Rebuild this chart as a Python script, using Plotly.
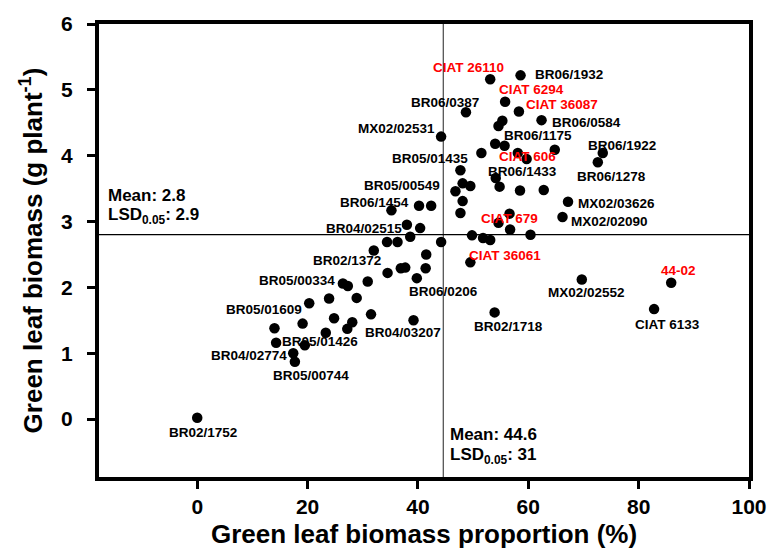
import plotly.graph_objects as go

# Green leaf biomass proportion (%) and green leaf biomass (g per plant) per genotype
prop = [0.0, 53.1, 58.6, 55.8, 48.7, 58.3, 62.4, 55.3, 54.6, 44.2,
        54.0, 55.7, 64.8, 73.5, 72.6, 51.5, 58.1, 59.7, 47.7, 54.1,
        48.1, 49.5, 46.8, 54.8, 58.5, 62.8, 67.2, 48.1, 47.7, 56.6,
        66.2, 54.6, 56.7, 60.4, 49.8, 51.8, 53.1, 44.2, 49.5, 69.7,
        85.9, 53.9, 82.8, 40.2, 42.4, 35.2, 38.0, 40.4, 38.6, 34.4,
        36.3, 32.0, 41.5, 36.9, 37.7, 41.4, 34.5, 39.8, 26.4, 27.3,
        30.9, 23.9, 28.9, 20.3, 24.8, 28.1, 31.5, 39.2, 19.1, 14.0,
        27.2, 23.3, 19.5, 14.3, 17.4, 17.7]
biomass = [0.02, 5.16, 5.22, 4.82, 4.66, 4.67, 4.54, 4.53, 4.45, 4.29,
           4.18, 4.15, 4.09, 4.04, 3.90, 4.04, 4.04, 3.95, 3.78, 3.66,
           3.58, 3.54, 3.46, 3.53, 3.47, 3.48, 3.30, 3.31, 3.13, 3.12,
           3.07, 2.98, 2.88, 2.80, 2.79, 2.75, 2.72, 2.69, 2.38, 2.12,
           2.07, 1.62, 1.67, 3.24, 3.24, 3.17, 2.95, 2.90, 2.77, 2.69,
           2.69, 2.56, 2.50, 2.29, 2.30, 2.29, 2.22, 2.14, 2.06, 2.02,
           2.09, 1.83, 1.84, 1.76, 1.53, 1.47, 1.59, 1.50, 1.45, 1.38,
           1.37, 1.31, 1.12, 1.16, 1.00, 0.87]

# Genotype names shown on the chart; red ones are the CIAT checks
names = ["CIAT 26110", "BR06/1932", "CIAT 6294", "BR06/0387", "CIAT 36087",
         "BR06/0584", "MX02/02531", "BR06/1175", "BR06/1922", "CIAT 606",
         "BR05/01435", "BR06/1433", "BR06/1278", "BR05/00549", "BR06/1454",
         "MX02/03626", "CIAT 679", "MX02/02090", "BR04/02515", "BR02/1372",
         "CIAT 36061", "BR05/00334", "BR06/0206", "MX02/02552", "44-02",
         "BR05/01609", "BR02/1718", "CIAT 6133", "BR04/03207", "BR05/01426",
         "BR04/02774", "BR05/00744", "BR02/1752"]
red_names = {"CIAT 26110", "CIAT 6294", "CIAT 36087", "CIAT 606", "CIAT 679",
             "CIAT 36061", "44-02"}

# Overall means and LSD values
mean_prop, lsd_prop = 44.6, 31
mean_bio, lsd_bio = 2.8, 2.9

# Where each name label sits (label centre, axis units)
label_xy = {
    "CIAT 26110": (49.2, 5.34), "BR06/1932": (67.3, 5.24), "CIAT 6294": (60.6, 5.00),
    "BR06/0387": (44.9, 4.81), "CIAT 36087": (66.1, 4.78), "BR06/0584": (70.5, 4.50),
    "MX02/02531": (36.1, 4.41), "BR06/1175": (61.8, 4.30), "BR06/1922": (77.0, 4.16),
    "CIAT 606": (59.8, 3.99), "BR05/01435": (42.1, 3.96), "BR06/1433": (59.0, 3.76),
    "BR06/1278": (75.1, 3.69), "BR05/00549": (37.2, 3.54), "BR06/1454": (32.1, 3.29),
    "MX02/03626": (76.0, 3.28), "CIAT 679": (56.6, 3.04), "MX02/02090": (74.7, 3.00),
    "BR04/02515": (30.3, 2.90), "BR02/1372": (27.1, 2.41), "CIAT 36061": (55.8, 2.49),
    "BR05/00334": (18.1, 2.10), "BR06/0206": (44.7, 1.94), "MX02/02552": (70.5, 1.92),
    "44-02": (87.3, 2.25), "BR05/01609": (12.05, 1.67), "BR02/1718": (56.4, 1.41),
    "CIAT 6133": (85.3, 1.44), "BR04/03207": (37.3, 1.32), "BR05/01426": (22.2, 1.18),
    "BR04/02774": (9.4, 0.96), "BR05/00744": (20.7, 0.66), "BR02/1752": (1.0, -0.20),
}

FONT = "Liberation Sans, Arial, sans-serif"
X_RANGE = [-17.8, 100]
Y_RANGE = [-0.88, 6]

fig = go.Figure()
fig.add_trace(go.Scatter(
    x=prop, y=biomass, mode="markers",
    marker=dict(size=10.5, color="black"),
    showlegend=False, cliponaxis=False,
))

# Mean reference lines
fig.add_shape(type="line", xref="x", yref="paper", x0=mean_prop, x1=mean_prop,
              y0=0, y1=1, line=dict(color="#555555", width=1.3), layer="below")
fig.add_shape(type="line", xref="paper", yref="y", x0=0, x1=1,
              y0=mean_bio, y1=mean_bio, line=dict(color="black", width=1.3), layer="below")

annotations = []
for nm in names:
    lx, ly = label_xy[nm]
    annotations.append(dict(
        x=lx, y=ly, xref="x", yref="y", text=nm, showarrow=False,
        xanchor="center", yanchor="middle",
        font=dict(family=FONT, size=13.5, weight="bold",
                  color="#ff0000" if nm in red_names else "black"),
    ))

stat_font = dict(family=FONT, size=17, weight="bold", color="black")
annotations += [
    dict(x=-16.6, y=3.40, xref="x", yref="y", xanchor="left", yanchor="middle",
         text=f"Mean: {mean_bio}", showarrow=False, font=stat_font),
    dict(x=-16.6, y=3.08, xref="x", yref="y", xanchor="left", yanchor="middle",
         text=f"LSD<sub>0.05</sub>: {lsd_bio}", showarrow=False, font=stat_font),
    dict(x=45.5, y=-0.24, xref="x", yref="y", xanchor="left", yanchor="middle",
         text=f"Mean: {mean_prop}", showarrow=False, font=stat_font),
    dict(x=45.5, y=-0.56, xref="x", yref="y", xanchor="left", yanchor="middle",
         text=f"LSD<sub>0.05</sub>: {lsd_prop}", showarrow=False, font=stat_font),
]

axis_common = dict(
    showline=True, linecolor="black", linewidth=4, mirror=True,
    ticks="outside", ticklen=8, tickwidth=3, tickcolor="black",
    showgrid=False, zeroline=False,
    tickfont=dict(family=FONT, size=21, weight="bold", color="black"),
)

fig.update_layout(
    width=779, height=557,
    margin=dict(l=99, r=24, t=18, b=79),
    paper_bgcolor="white", plot_bgcolor="white",
    annotations=annotations,
    xaxis=dict(range=X_RANGE, tickvals=[0, 20, 40, 60, 80, 100],
               ticklabelstandoff=0,
               title=dict(text="Green leaf biomass proportion (%)", standoff=9,
                          font=dict(family=FONT, size=26, weight="bold", color="black")),
               **axis_common),
    yaxis=dict(range=Y_RANGE, tickvals=[0, 1, 2, 3, 4, 5, 6],
               ticklabelstandoff=10,
               title=dict(text="Green leaf biomass (g plant<sup>-1</sup>)", standoff=12,
                          font=dict(family=FONT, size=26, weight="bold", color="black")),
               **axis_common),
)

fig.write_html("out.html")
